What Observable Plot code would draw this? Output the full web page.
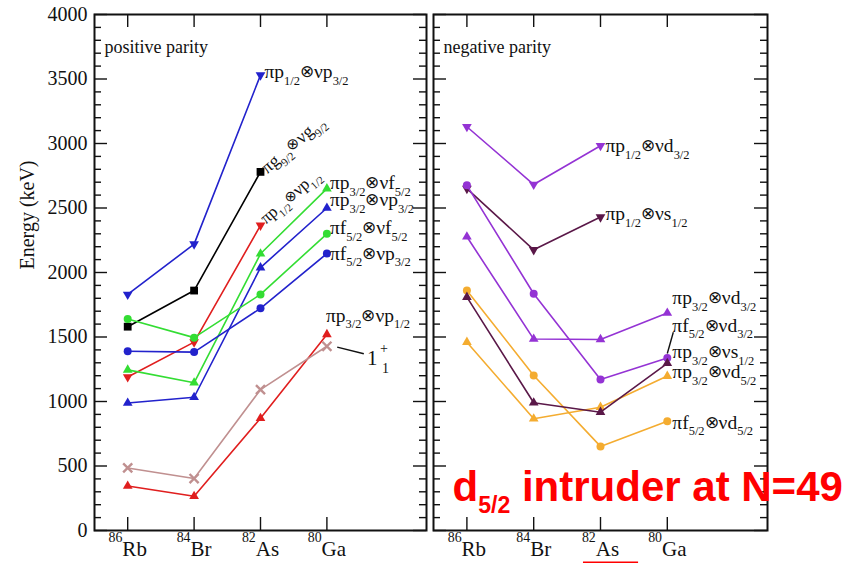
<!DOCTYPE html>
<html><head><meta charset="utf-8">
<script src="https://cdn.jsdelivr.net/npm/d3@7"></script>
<script src="https://cdn.jsdelivr.net/npm/@observablehq/plot@0.6"></script>
<style>
body{margin:0;background:#fff;}
#wrap{position:relative;width:859px;height:563px;overflow:hidden;background:#fff;}
#wrap svg{position:absolute;top:0;}
</style></head><body><div id="wrap"></div>
<script>
// ---------- data ----------
const categories = ["Rb", "Br", "As", "Ga"];
const massNumbers = ["86", "84", "82", "80"];
const yMajorTicks = [0, 500, 1000, 1500, 2000, 2500, 3000, 3500, 4000];
const yMinorTicks = d3.range(0, 4001, 100).filter(v => v % 500 !== 0);

// positive parity (keV), order Rb, Br, As, Ga
const pos_p12_p32 = [1830, 2220, 3530, null];
const pos_g92_g92 = [1580, 1860, 2780, null];
const pos_p12_p12 = [1190, 1460, 2365, null];
const pos_p32_f52 = [1245, 1145, 2145, 2650];
const pos_p32_p32 = [988, 1033, 2038, 2500];
const pos_f52_f52 = [1640, 1495, 1830, 2300];
const pos_f52_p32 = [1390, 1383, 1722, 2147];
const pos_p32_p12 = [345, 265, 870, 1520];
const pos_1plus = [485, 403, 1092, 1428];

// negative parity (keV)
const neg_p12_d32 = [3130, 2682, 2983, null];
const neg_p12_s12 = [2650, 2176, 2430, null];
const neg_p32_d32 = [2277, 1484, 1481, 1686];
const neg_f52_d32 = [1809, 990, 917, 1296];
const neg_p32_s12 = [2676, 1835, 1171, 1337];
const neg_p32_d52 = [1460, 866, 956, 1197];
const neg_f52_d52 = [1860, 1202, 652, 846];

// ---------- styling ----------
const S3 = Math.sqrt(3);
const triangleDown = {draw(ctx, size) {
  const y = -Math.sqrt(size / (S3 * 3));
  ctx.moveTo(0, -y * 2); ctx.lineTo(-S3 * y, y); ctx.lineTo(S3 * y, y); ctx.closePath();
}};
const BLUE = "#2222cc", BLACK = "#000000", RED = "#e01e1e", GREEN = "#33dd33", ROSY = "#c09090";
const PURPLE = "#9433d4", MAROON = "#5a1848", ORANGE = "#f4ac30";

const posSeries = [
  {key: "p12p32", values: pos_p12_p32, color: BLUE, symbol: triangleDown},
  {key: "g92g92", values: pos_g92_g92, color: BLACK, symbol: "square"},
  {key: "p12p12", values: pos_p12_p12, color: RED, symbol: triangleDown},
  {key: "p32f52", values: pos_p32_f52, color: GREEN, symbol: "triangle"},
  {key: "p32p32", values: pos_p32_p32, color: BLUE, symbol: "triangle"},
  {key: "f52f52", values: pos_f52_f52, color: GREEN, symbol: "circle"},
  {key: "f52p32", values: pos_f52_p32, color: BLUE, symbol: "circle"},
  {key: "p32p12", values: pos_p32_p12, color: RED, symbol: "triangle"},
  {key: "one", values: pos_1plus, color: ROSY, symbol: "times"}
];
const negSeries = [
  {key: "p12d32", values: neg_p12_d32, color: PURPLE, symbol: triangleDown},
  {key: "p12s12", values: neg_p12_s12, color: MAROON, symbol: triangleDown},
  {key: "p32d32", values: neg_p32_d32, color: PURPLE, symbol: "triangle"},
  {key: "p32s12", values: neg_p32_s12, color: PURPLE, symbol: "circle"},
  {key: "f52d52", values: neg_f52_d52, color: ORANGE, symbol: "circle"},
  {key: "p32d52", values: neg_p32_d52, color: ORANGE, symbol: "triangle"},
  {key: "f52d32", values: neg_f52_d32, color: MAROON, symbol: "triangle"}
];

// labels: anchored at a point of a series, pixel offsets
const posLabels = [
  {key: "p12p32", i: 2, text: "πp_{1/2}⊗νp_{3/2}", dx: 4, dy: -3},
  {key: "g92g92", i: 2, text: "πg_{9/2}⊗νg_{9/2}", dx: 3, dy: -2, rotate: -41, fontSize: 18},
  {key: "p12p12", i: 2, text: "πp_{1/2}⊗νp_{1/2}", dx: 2, dy: -5, rotate: -41, fontSize: 17},
  {key: "p32f52", i: 3, text: "πp_{3/2}⊗νf_{5/2}", dx: 3, dy: -6},
  {key: "p32p32", i: 3, text: "πp_{3/2}⊗νp_{3/2}", dx: 3, dy: -8},
  {key: "f52f52", i: 3, text: "πf_{5/2}⊗νf_{5/2}", dx: 3, dy: -6},
  {key: "f52p32", i: 3, text: "πf_{5/2}⊗νp_{3/2}", dx: 3, dy: 0},
  {key: "p32p12", i: 3, text: "πp_{3/2}⊗νp_{1/2}", dx: -1, dy: -19},
  {key: "one", i: 3, text: "1", dx: 40, dy: 12, fontSize: 21},
  {key: "one", i: 3, text: "+", dx: 53, dy: 2, fontSize: 14},
  {key: "one", i: 3, text: "1", dx: 55, dy: 22, fontSize: 14}
];
const negLabels = [
  {key: "p12d32", i: 2, text: "πp_{1/2}⊗νd_{3/2}", dx: 5, dy: 0},
  {key: "p12s12", i: 2, text: "πp_{1/2}⊗νs_{1/2}", dx: 5, dy: -3},
  {key: "p32d32", i: 3, text: "πp_{3/2}⊗νd_{3/2}", dx: 5, dy: -15},
  {key: "f52d32", i: 3, text: "πf_{5/2}⊗νd_{3/2}", dx: 5, dy: -38},
  {key: "p32s12", i: 3, text: "πp_{3/2}⊗νs_{1/2}", dx: 5, dy: -6},
  {key: "p32d52", i: 3, text: "πp_{3/2}⊗νd_{5/2}", dx: 5, dy: -4},
  {key: "f52d52", i: 3, text: "πf_{5/2}⊗νd_{5/2}", dx: 5, dy: 1}
];
const posLeaders = [{x1: 3.655, y1: 1421, x2: 4.056, y2: 1370}];
const negLeaders = [{x1: 3.59, y1: 1537, x2: 3.5, y2: 1372}];

// ---------- helpers ----------
const SERIF = "Liberation Serif, Times New Roman, serif";
function rich(el) {
  const s = el.textContent;
  if (!/[_^]\{|⊗/.test(s)) return;
  const fsAttr = el.closest("[font-size]");
  const fs = fsAttr ? parseFloat(fsAttr.getAttribute("font-size")) : 18;
  const big = fs > 30;
  const re = /([_^])\{([^}]*)\}|(⊗)|([^_^⊗]+)/g;
  el.textContent = "";
  let cur = 0, m;
  while ((m = re.exec(s))) {
    const t = document.createElementNS("http://www.w3.org/2000/svg", "tspan");
    let shift = 0, size = fs;
    if (m[1] === "_") { shift = fs * (big ? 0.3 : 0.34); size = fs * (big ? 0.55 : 0.64); t.textContent = m[2]; }
    else if (m[1] === "^") { shift = -fs * 0.7; size = fs * 0.66; t.textContent = m[2]; }
    else if (m[3]) { shift = -fs * 0.05; size = fs * 0.85; t.textContent = m[3]; t.setAttribute("font-weight", "normal"); }
    else t.textContent = m[4];
    t.setAttribute("dy", (shift - cur).toFixed(2));
    t.setAttribute("font-size", size.toFixed(2));
    cur = shift;
    el.appendChild(t);
  }
}

function panel({series, labels, leaders, title, width, marginLeft, marginRight, showY, extra = []}) {
  const frameW = width - marginLeft - marginRight, frameH = 563 - 14 - 33;
  const byKey = Object.fromEntries(series.map(s => [s.key, s]));
  const cats = categories.map((c, i) => ({x: i + 0.5, y: 0, t: `^{${massNumbers[i]}}${c}`}));
  const marks = [
    Plot.tickY(yMajorTicks, {y: d => d, insetRight: frameW - 13, strokeWidth: 1.4}),
    Plot.tickY(yMajorTicks, {y: d => d, insetLeft: frameW - 13, strokeWidth: 1.4}),
    Plot.tickY(yMinorTicks, {y: d => d, insetRight: frameW - 7, strokeWidth: 1.4}),
    Plot.tickY(yMinorTicks, {y: d => d, insetLeft: frameW - 7, strokeWidth: 1.4}),
    Plot.tickX(cats, {x: "x", insetTop: frameH - 13, strokeWidth: 1.4}),
    Plot.tickX(cats, {x: "x", insetBottom: frameH - 13, strokeWidth: 1.4}),
    Plot.frame({stroke: "#111", strokeWidth: 2})
  ];
  for (const s of series) {
    const rows = s.values.map((v, i) => ({x: i + 0.5, y: v})).filter(d => d.y != null);
    marks.push(Plot.line(rows, {x: "x", y: "y", stroke: s.color, strokeWidth: 1.6}));
    const times = s.symbol === "times";
    marks.push(Plot.dot(rows, {x: "x", y: "y", symbol: s.symbol,
      r: s.symbol === "circle" ? 4 : s.symbol === "square" ? 4.4 : times ? 4.2 : 3.6,
      fill: times ? "none" : s.color, stroke: times ? s.color : "none", strokeWidth: 2.4}));
  }
  marks.push(Plot.link(leaders, {x1: "x1", y1: "y1", x2: "x2", y2: "y2", stroke: "#111", strokeWidth: 1.4}));
  for (const L of labels) {
    const s = byKey[L.key];
    marks.push(Plot.text([{x: L.i + 0.5, y: s.values[L.i], t: L.text}], {
      x: "x", y: "y", text: "t", dx: L.dx, dy: L.dy, rotate: L.rotate || 0,
      textAnchor: "start", fontSize: L.fontSize || 19.5, fill: "#111"}));
  }
  marks.push(Plot.text([title], {text: d => d, frameAnchor: "top-left", dx: 10, dy: 26, textAnchor: "start", fontSize: 18, fill: "#111"}));
  marks.push(Plot.text(cats, {x: "x", y: "y", text: "t", dy: 19, fontSize: 21, fill: "#111"}));
  if (showY) marks.push(Plot.text(["Energy (keV)"], {text: d => d, frameAnchor: "left", dx: -67, dy: -3, rotate: -90, fontSize: 20, fill: "#111"}));
  marks.push(...extra);
  const svg = Plot.plot({
    width, height: 563, marginTop: 14, marginBottom: 33, marginLeft, marginRight,
    x: {domain: [0, 5], axis: null},
    y: showY ? {domain: [0, 4000], ticks: yMajorTicks, tickSize: 0, tickPadding: 7, label: null, tickFormat: d => String(d)}
             : {domain: [0, 4000], axis: null},
    style: {fontFamily: SERIF, fontSize: "20px", background: "transparent", overflow: "visible", color: "#111"},
    marks
  });
  svg.querySelectorAll("text").forEach(rich);
  return svg;
}

const wrap = document.getElementById("wrap");
const left = panel({series: posSeries, labels: posLabels, leaders: posLeaders, title: "positive parity",
  width: 430, marginLeft: 94, marginRight: 4, showY: true});
left.style.left = "0px";
const right = panel({series: negSeries, labels: negLabels, leaders: negLeaders, title: "negative parity",
  width: 429, marginLeft: 3, marginRight: 92, showY: false,
  extra: [
    Plot.text(["d_{5/2} intruder at N=49"], {text: d => d, frameAnchor: "bottom-left", dx: 19, dy: -30,
      lineAnchor: "bottom", textAnchor: "start", fill: "#ff0000", fontSize: 42, fontWeight: "bold",
      fontFamily: "Liberation Sans, Arial, sans-serif"}),
    Plot.ruleY([-248], {y: d => d, x1: 2.245, x2: 3.07, stroke: "#ff0000", strokeWidth: 2})
  ]});
right.style.left = "430px";
wrap.appendChild(left);
wrap.appendChild(right);
</script></body></html>
